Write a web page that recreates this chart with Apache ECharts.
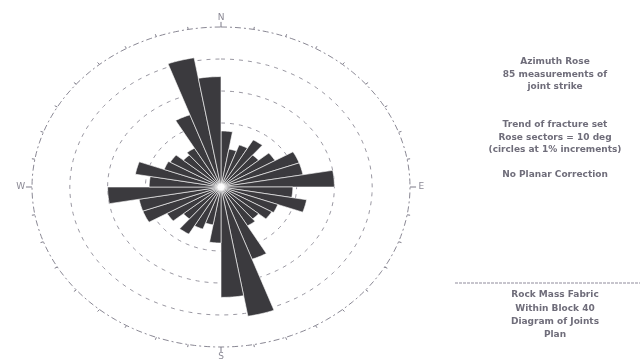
<!DOCTYPE html>
<html>
<head>
<meta charset="utf-8">
<script src="https://cdn.jsdelivr.net/npm/echarts@6/dist/echarts.min.js"></script>
<style>
  html, body { margin: 0; padding: 0; background: #ffffff; }
  #chart { width: 640px; height: 359px; }
</style>
</head>
<body>
<div id="chart"></div>
<script>
// Rose diagram of joint strike: 10-degree sectors, counted clockwise from north
const sectorStart = [0, 10, 20, 30, 40, 50, 60, 70, 80, 90, 100, 110, 120, 130, 140, 150, 160, 170,
                     180, 190, 200, 210, 220, 230, 240, 250, 260, 270, 280, 290, 300, 310, 320, 330, 340, 350];
const sectorValue = [1.75, 1.2, 1.4, 1.7, 1.3, 1.65, 2.2, 2.2, 3.0, 1.9, 2.3, 1.6, 1.55, 1.3, 1.4, 2.4, 4.1, 3.45,
                     1.75, 1.2, 1.4, 1.7, 1.3, 1.65, 2.2, 2.2, 3.0, 1.9, 2.3, 1.6, 1.55, 1.3, 1.4, 2.4, 4.1, 3.45];
const sectorWidth = 10;

// Concentric reference circles and the outer frame
const ringLevels = [1, 2, 3, 4];
const frameRadius = 5;
const compassLabels = ['N', 'E', 'S', 'W'];
const compassAngles = [0, 90, 180, 270];

// Notes on the right-hand side
const noteBlockA = ['Azimuth Rose', '85 measurements of', 'joint strike'];
const noteBlockB = ['Trend of fracture set', 'Rose sectors = 10 deg', '(circles at 1% increments)'];
const noteBlockC = ['No Planar Correction'];
const noteBlockD = ['Rock Mass Fabric', 'Within Block 40', 'Diagram of Joints', 'Plan'];

const chart = echarts.init(document.getElementById('chart'), null, { renderer: 'canvas' });

function toXY(r, deg) {
  const t = deg * Math.PI / 180;
  return [r * Math.sin(t), r * Math.cos(t)];
}

function sectorItem(params, api) {
  const a0 = api.value(0);
  const a1 = a0 + sectorWidth;
  const r = api.value(1);
  const pts = [api.coord([0, 0])];
  const steps = 8;
  for (let i = 0; i <= steps; i++) {
    pts.push(api.coord(toXY(r, a0 + (a1 - a0) * i / steps)));
  }
  return {
    type: 'polygon',
    shape: { points: pts },
    style: { fill: '#3b3a3e', stroke: '#ffffff', lineWidth: 0.6 }
  };
}

function ringItem(params, api) {
  const r = api.value(0);
  const pts = [];
  for (let a = 0; a <= 360; a += 3) pts.push(api.coord(toXY(r, a)));
  return {
    type: 'polyline',
    shape: { points: pts },
    style: { fill: null, stroke: '#9a98a2', lineWidth: 1, lineDash: [4, 5] }
  };
}

function frameItem(params, api) {
  const r = api.value(0);
  const children = [];
  const pts = [];
  for (let a = 0; a <= 360; a += 2) pts.push(api.coord(toXY(r, a)));
  children.push({
    type: 'polyline',
    shape: { points: pts },
    style: { fill: null, stroke: '#8a8894', lineWidth: 1, lineDash: [6, 3, 2, 3] }
  });
  for (let a = 0; a < 360; a += 10) {
    const p0 = api.coord(toXY(r, a));
    const p1 = api.coord(toXY(r + (a % 90 === 0 ? 0.16 : 0.08), a));
    children.push({
      type: 'line',
      shape: { x1: p0[0], y1: p0[1], x2: p1[0], y2: p1[1] },
      style: { stroke: '#7d7b88', lineWidth: 1 }
    });
  }
  return { type: 'group', children: children };
}

function labelItem(params, api) {
  const name = compassLabels[params.dataIndex];
  const a = api.value(0);
  const p = api.coord(toXY(frameRadius + 0.3, a));
  return {
    type: 'text',
    x: p[0], y: p[1],
    style: {
      text: name, fill: '#8a8894', font: '9px "DejaVu Sans"',
      align: 'center', verticalAlign: 'middle'
    }
  };
}

function centeredNotes(lines, top, lineHeight) {
  return lines.map((t, i) => ({
    type: 'text',
    x: 555, y: top + i * lineHeight,
    style: {
      text: t, fill: '#6f6d7a', font: 'bold 9px "DejaVu Sans"',
      textAlign: 'center', textVerticalAlign: 'middle'
    }
  }));
}

const graphics = [].concat(
  centeredNotes(noteBlockA, 62, 12.5),
  centeredNotes(noteBlockB, 125, 12.5),
  centeredNotes(noteBlockC, 175, 12),
  [{
    type: 'line',
    shape: { x1: 455, y1: 283, x2: 640, y2: 283 },
    style: { stroke: '#b5b3bd', lineWidth: 1.5, lineDash: [3, 1] }
  }],
  centeredNotes(noteBlockD, 295, 13.3)
);

chart.setOption({
  animation: false,
  backgroundColor: '#ffffff',
  grid: { left: 32, top: 27, width: 378, height: 320, containLabel: false },
  xAxis: { type: 'value', min: -5, max: 5, show: false },
  yAxis: { type: 'value', min: -5, max: 5, show: false },
  graphic: graphics,
  series: [
    {
      type: 'custom', name: 'rings', renderItem: ringItem, silent: true, z: 1,
      data: ringLevels.map(r => [r])
    },
    {
      type: 'custom', name: 'frame', renderItem: frameItem, silent: true, z: 1,
      data: [[frameRadius]]
    },
    {
      type: 'custom', name: 'sectors', renderItem: sectorItem, z: 2,
      data: sectorStart.map((s, i) => [s, sectorValue[i]])
    },
    {
      type: 'custom', name: 'compass', renderItem: labelItem, silent: true, z: 3,
      data: compassAngles.map(a => [a])
    },
    {
      type: 'scatter', z: 4, silent: true,
      data: [[0, 0]], symbol: 'circle', symbolSize: 7,
      itemStyle: { color: '#ffffff', shadowBlur: 6, shadowColor: '#ffffff' }
    }
  ]
});
</script>
</body>
</html>
